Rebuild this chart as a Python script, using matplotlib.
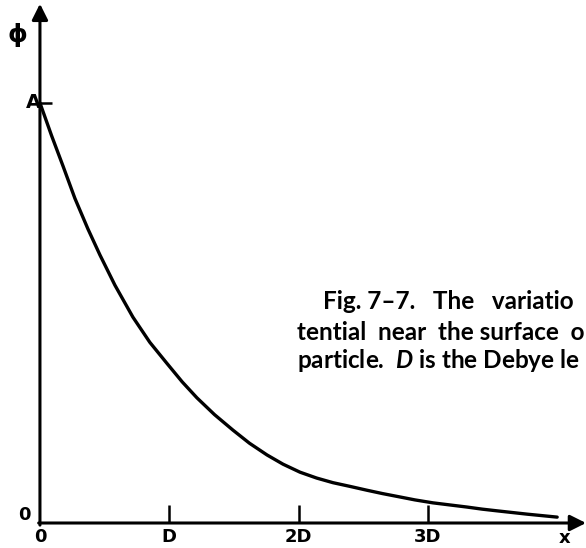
import numpy as np
import matplotlib.pyplot as plt

plt.rcParams['mathtext.fontset'] = 'custom'
plt.rcParams['mathtext.rm'] = 'Lato:bold'
plt.rcParams['mathtext.it'] = 'Lato:bold:italic'

# potential phi/A against distance x/D
x_pts = [0.0, 0.09, 0.178, 0.27, 0.371, 0.464, 0.58, 0.719, 0.85, 0.982,
         1.1, 1.214, 1.35, 1.493, 1.62, 1.756, 1.88, 2.011, 2.14, 2.266,
         2.4, 2.529, 2.65, 2.784, 2.9, 3.039, 3.17, 3.302, 3.42, 3.534,
         3.77, 4.0]
phi_pts = [1.0, 0.922, 0.850, 0.773, 0.700, 0.638, 0.566, 0.490, 0.430,
           0.380, 0.336, 0.298, 0.258, 0.221, 0.190, 0.162, 0.140, 0.121,
           0.107, 0.096, 0.087, 0.078, 0.070, 0.062, 0.055, 0.048, 0.043,
           0.038, 0.033, 0.029, 0.021, 0.014]

tick_pos = [1, 2, 3]
tick_labels = ['D', '2D', '3D']

# caption lines, as far as they run before the right margin
caption = ['Fig. 7\u20137.   The   variatio',
           'tential  near  the surface  o',
           r'particle.  $\mathit{D}$ is the Debye le']

fig = plt.figure(figsize=(5.86, 5.48), dpi=100)
ax = fig.add_axes([0, 0, 1, 1])
ax.set_xlim(-0.309, 4.223)
ax.set_ylim(-0.0595, 1.245)
ax.axis('off')

# axes drawn as arrows
arr = dict(arrowstyle='-|>', lw=2.2, color='black', mutation_scale=24,
           shrinkA=0, shrinkB=0)
ax.annotate('', xy=(4.223, 0), xytext=(-0.01, 0), arrowprops=arr)
ax.annotate('', xy=(0.0, 1.236), xytext=(0.0, -0.005), arrowprops=arr)

ax.plot(x_pts, phi_pts, color='black', lw=2.4, solid_capstyle='round',
        solid_joinstyle='round')

ax.vlines(tick_pos, 0, 0.042, color='black', lw=1.8)
ax.hlines(1.0, 0, 0.095, color='black', lw=1.8)

lab = dict(fontsize=13, fontweight='bold', ha='center', va='center')
ax.text(0, -0.034, '0', **lab)
for p, t in zip(tick_pos, tick_labels):
    ax.text(p, -0.034, t, **lab)
ax.text(4.06, -0.036, 'x', **lab)
ax.text(-0.12, 0.018, '0', **lab)
ax.text(-0.05, 1.0, 'A', fontsize=14, fontweight='bold', ha='center', va='center')
ax.text(-0.178, 1.161, '\u03d5', fontsize=18, fontweight='bold', ha='center', va='center')

cap = dict(fontsize=17.5, fontfamily='Lato', fontweight='bold', ha='left', va='center')
ax.text(2.19, 0.528, caption[0], **cap)
ax.text(1.99, 0.454, caption[1], **cap)
ax.text(1.99, 0.388, caption[2], **cap)

plt.savefig('out.png', dpi=100)
plt.close()
